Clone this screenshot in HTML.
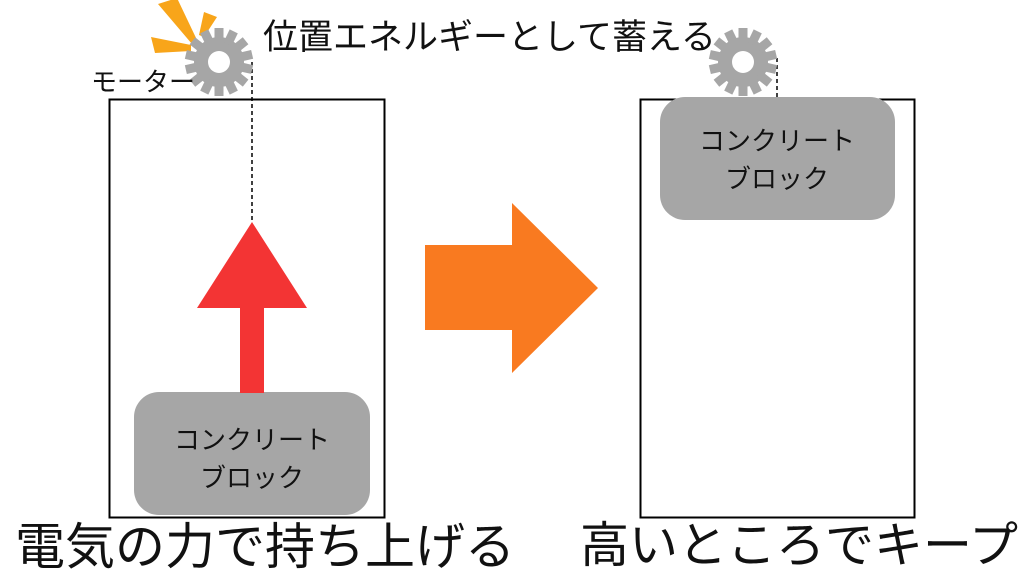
<!DOCTYPE html>
<html><head><meta charset="utf-8"><style>
body{margin:0;width:1024px;height:576px;background:#fff;overflow:hidden;position:relative;font-family:"Liberation Sans","Noto Sans CJK JP",sans-serif;color:#111}
.t{position:absolute;white-space:nowrap;line-height:1}
</style></head><body>
<svg width="1024" height="576" style="position:absolute;left:0;top:0">
<defs>
<g id="gear">
<circle r="25" fill="#a6a6a6"/>
<g fill="#a6a6a6">
<rect x="-4.5" y="-34" width="9" height="14"/>
<rect x="-4.5" y="-34" width="9" height="14" transform="rotate(25.7)"/>
<rect x="-4.5" y="-34" width="9" height="14" transform="rotate(51.4)"/>
<rect x="-4.5" y="-34" width="9" height="14" transform="rotate(77.1)"/>
<rect x="-4.5" y="-34" width="9" height="14" transform="rotate(102.8)"/>
<rect x="-4.5" y="-34" width="9" height="14" transform="rotate(128.5)"/>
<rect x="-4.5" y="-34" width="9" height="14" transform="rotate(154.2)"/>
<rect x="-4.5" y="-34" width="9" height="14" transform="rotate(180)"/>
<rect x="-4.5" y="-34" width="9" height="14" transform="rotate(205.7)"/>
<rect x="-4.5" y="-34" width="9" height="14" transform="rotate(231.4)"/>
<rect x="-4.5" y="-34" width="9" height="14" transform="rotate(257.1)"/>
<rect x="-4.5" y="-34" width="9" height="14" transform="rotate(282.8)"/>
<rect x="-4.5" y="-34" width="9" height="14" transform="rotate(308.5)"/>
<rect x="-4.5" y="-34" width="9" height="14" transform="rotate(334.2)"/>
</g>
<circle r="11" fill="#fff"/>
</g>
</defs>
<rect x="109.5" y="99.5" width="275" height="418" fill="none" stroke="#000" stroke-width="2"/>
<rect x="640.5" y="99.5" width="274" height="418" fill="none" stroke="#000" stroke-width="2"/>
<rect x="134" y="392" width="236" height="123" rx="25" fill="#a6a6a6"/>
<rect x="660" y="97" width="235" height="123" rx="25" fill="#a6a6a6"/>
<line x1="252" y1="62" x2="252" y2="222" stroke="#000" stroke-width="1.5" stroke-dasharray="4,3"/>
<line x1="777" y1="58" x2="777" y2="97" stroke="#000" stroke-width="1.5" stroke-dasharray="4,3"/>
<polygon points="252,222 307,308 197,308" fill="#f33434"/>
<rect x="240" y="307" width="24" height="86" fill="#f33434"/>
<polygon points="425,245 512,245 512,203 598,288 512,373 512,330 425,330" fill="#f97a20"/>
<polygon points="158,4 177,-2 197,40 192,44" fill="#f8a51a"/>
<polygon points="204,12 217,17 204,37 199,35" fill="#f8a51a"/>
<polygon points="151,37 155,53 191,51 191,45" fill="#f8a51a"/>
<use href="#gear" x="219" y="62"/>
<use href="#gear" x="743" y="62"/>
</svg>
<div class="t" style="left:263px;top:20px;font-size:35px">位置エネルギーとして蓄える</div>
<div class="t" style="left:91px;top:69px;font-size:26px">モーター</div>
<div class="t" style="left:152px;top:421px;font-size:26px;width:200px;text-align:center;line-height:38px">コンクリート<br>ブロック</div>
<div class="t" style="left:677px;top:122px;font-size:26px;width:200px;text-align:center;line-height:38px">コンクリート<br>ブロック</div>
<div class="t" style="left:15px;top:522px;font-size:50px">電気の力で持ち上げる</div>
<div class="t" style="left:580px;top:522px;font-size:49px">高いところでキープ</div>
</body></html>
